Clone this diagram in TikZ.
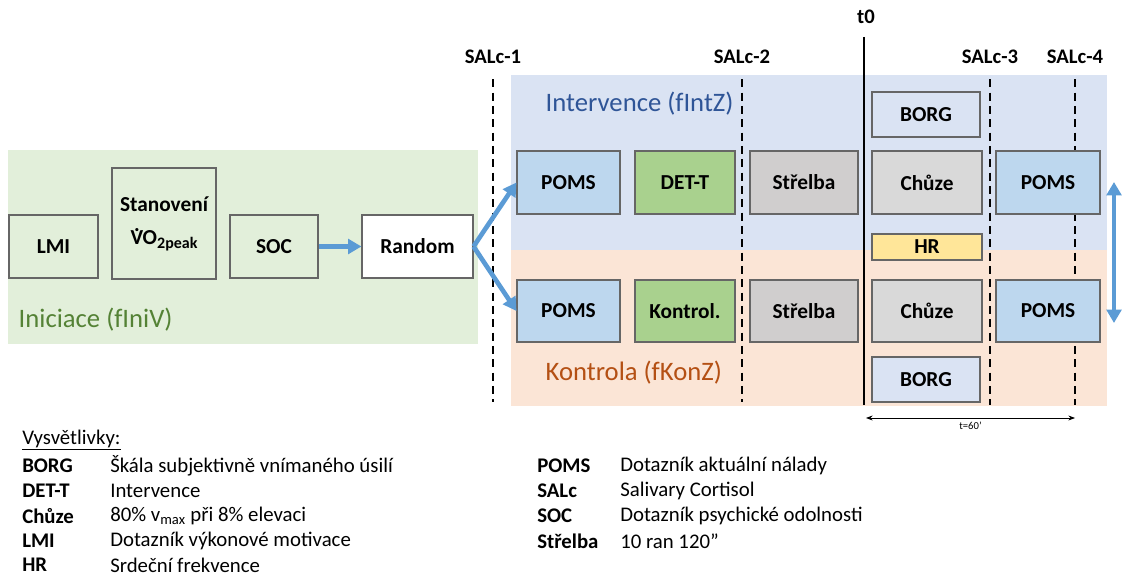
\documentclass[tikz,border=0pt]{standalone}
\usepackage{fontspec}
\setmainfont{Carlito}
\usetikzlibrary{arrows.meta}
\definecolor{iniciace}{RGB}{226,239,218}
\definecolor{intervence}{RGB}{218,227,243}
\definecolor{kontrola}{RGB}{251,229,214}
\definecolor{pomsmodra}{RGB}{189,215,238}
\definecolor{detzelena}{RGB}{169,209,142}
\definecolor{strelbaseda}{RGB}{208,206,206}
\definecolor{chuzeseda}{RGB}{217,217,217}
\definecolor{hrzluta}{RGB}{255,230,153}
\definecolor{sipkamodra}{RGB}{91,155,213}
\definecolor{textzelena}{RGB}{84,130,53}
\definecolor{textmodra}{RGB}{47,85,151}
\definecolor{texthneda}{RGB}{180,80,20}

\newcommand{\vtecka}{\leavevmode\rlap{\hspace{0.17em}\raisebox{0.62em}{.}}V}

\tikzset{
  blok/.style={draw=black!60, line width=0.8pt, inner sep=0pt, align=center,
    font=\bfseries\fontsize{16}{19}\selectfont},
  rozmer/.style 2 args={minimum width=#1*0.75pt, minimum height=#2*0.75pt},
  salc/.style={font=\bfseries\fontsize{15.5}{18}\selectfont},
  odber/.style={line width=1.7pt, dash pattern=on 6pt off 4pt},
  hrot/.style={-{Triangle[length=10pt,width=11pt]}},
  sipka/.style={draw=sipkamodra, line width=3.5pt, hrot},
  skupina/.style={font=\fontsize{20}{24}\selectfont, anchor=west},
  zkratka/.style={font=\bfseries\fontsize{15.6}{18}\selectfont, anchor=west, inner sep=0pt},
  popis/.style={font=\fontsize{15.6}{18}\selectfont, anchor=west, inner sep=0pt},
}

\begin{document}
\begin{tikzpicture}[x=0.75pt, y=-0.75pt]
    \useasboundingbox (0,0) rectangle (1122,577);

    % pozadi skupin
    \fill[iniciace] (8,150) rectangle (478,344);
    \fill[intervence] (511,75) rectangle (1107,250);
    \fill[kontrola] (511,250) rectangle (1107,406);
    \node[skupina, textzelena] (iniV) at (14,320) {Iniciace (fIniV)};
    \node[skupina, textmodra] (intZ) at (541,104) {Intervence (fIntZ)};
    \node[skupina, texthneda] (konZ) at (541,373) {Kontrola (fKonZ)};

    % odbery slin a t0
    \node[salc] (salcI) at (493,57) {SALc-1};
    \node[salc] (salcII) at (742,57) {SALc-2};
    \node[salc] (salcIII) at (990,57) {SALc-3};
    \node[salc] (salcIV) at (1075,57) {SALc-4};
    \node[salc] (tnula) at (866,17) {t0};
    \draw[odber] ([yshift=-8pt]salcI.south) -- (salcI.south |- 0,402);
    \draw[odber] ([yshift=-8pt]salcII.south) -- (salcII.south |- 0,402);
    \draw[odber] ([yshift=-8pt]salcIII.south) -- (salcIII.south |- 0,405);
    \draw[odber] ([yshift=-8pt]salcIV.south) -- (salcIV.south |- 0,405);
    \draw[line width=0.9pt] (864,37) -- (864,405);

    % iniciace
    \node[blok, fill=iniciace, rozmer={89}{63}] (lmi) at (53.5,246.5) {LMI};
    \node[blok, fill=iniciace, rozmer={104}{111}] (vo2) at (164,223.5)
      {Stanovení\\[6pt]\vtecka O\raisebox{-0.35ex}{\fontsize{12}{13}\selectfont 2peak}};
    \node[blok, fill=iniciace, rozmer={88}{63}] (soc) at (274,246.5) {SOC};
    \node[blok, fill=white, rozmer={111}{63}] (random) at (417.5,246.5) {Random};

    % intervence
    \node[blok, fill=intervence, rozmer={108}{45}] (borgI) at (926,114.5) {BORG};
    \node[blok, fill=pomsmodra, rozmer={103}{63}] (pomsI) at (568.5,182.5) {POMS};
    \node[blok, fill=detzelena, rozmer={100}{63}] (det) at (685,182.5) {DET-T};
    \node[blok, fill=strelbaseda, rozmer={108}{63}] (strelbaI) at (804,182.5) {Střelba};
    \node[blok, fill=chuzeseda, rozmer={110}{63}] (chuzeI) at (927,182.5) {Chůze};
    \node[blok, fill=pomsmodra, rozmer={104}{63}] (pomsII) at (1048,182.5) {POMS};
    \node[blok, fill=hrzluta, rozmer={110}{26}] (hr) at (927,247) {HR};

    % kontrola
    \node[blok, fill=pomsmodra, rozmer={103}{62}] (pomsIII) at (568.5,311) {POMS};
    \node[blok, fill=detzelena, rozmer={100}{62}] (kontrol) at (685,311) {Kontrol.};
    \node[blok, fill=strelbaseda, rozmer={108}{62}] (strelbaII) at (804,311) {Střelba};
    \node[blok, fill=chuzeseda, rozmer={110}{62}] (chuzeII) at (927,311) {Chůze};
    \node[blok, fill=pomsmodra, rozmer={104}{62}] (pomsIV) at (1048,311) {POMS};
    \node[blok, fill=intervence, rozmer={108}{45}] (borgII) at (926,379.5) {BORG};

    % sipky
    \draw[sipka] (soc) -- (random);
    \draw[sipka] (random.east) -- (pomsI.west);
    \draw[sipka] (random.east) -- (pomsIII.west);
    \coordinate (srovA) at (1114,182);
    \coordinate (srovB) at (1114,323);
    \draw[sipka, {Triangle[length=10pt,width=11pt]}-{Triangle[length=10pt,width=11pt]}] (srovA) -- (srovB);
    \coordinate (casA) at (866,418);
    \coordinate (casB) at (1075,418);
    \draw[line width=0.6pt, {Stealth[length=5pt]}-{Stealth[length=5pt]}] (casA) -- node[below=-1pt, font=\fontsize{8}{9}\selectfont] (cas) {t=60’} (casB);

    % vysvetlivky
    \node[popis] (vysv) at (22,440) {\underline{Vysvětlivky:}};
    \node[zkratka] (lBorg) at (22,466) {BORG};
    \node[popis] (pBorg) at (110,466) {Škála subjektivně vnímaného úsilí};
    \node[zkratka] (lDet) at (22,491) {DET-T};
    \node[popis] (pDet) at (110,491) {Intervence};
    \node[zkratka] (lChuze) at (22,516) {Chůze};
    \node[popis] (pChuze) at (110,516) {80\% v\textsubscript{max} při 8\% elevaci};
    \node[zkratka] (lLmi) at (22,541) {LMI};
    \node[popis] (pLmi) at (110,541) {Dotazník výkonové motivace};
    \node[zkratka] (lHr) at (22,565) {HR};
    \node[popis] (pHr) at (110,565) {Srdeční frekvence};
    \node[zkratka] (lPoms) at (537,466) {POMS};
    \node[popis] (pPoms) at (620,466) {Dotazník aktuální nálady};
    \node[zkratka] (lSalc) at (537,491) {SALc};
    \node[popis] (pSalc) at (620,491) {Salivary Cortisol};
    \node[zkratka] (lSoc) at (537,516) {SOC};
    \node[popis] (pSoc) at (620,516) {Dotazník psychické odolnosti};
    \node[zkratka] (lStrelba) at (537,541) {Střelba};
    \node[popis] (pStrelba) at (620,541) {10 ran 120”};

\end{tikzpicture}
\end{document}
